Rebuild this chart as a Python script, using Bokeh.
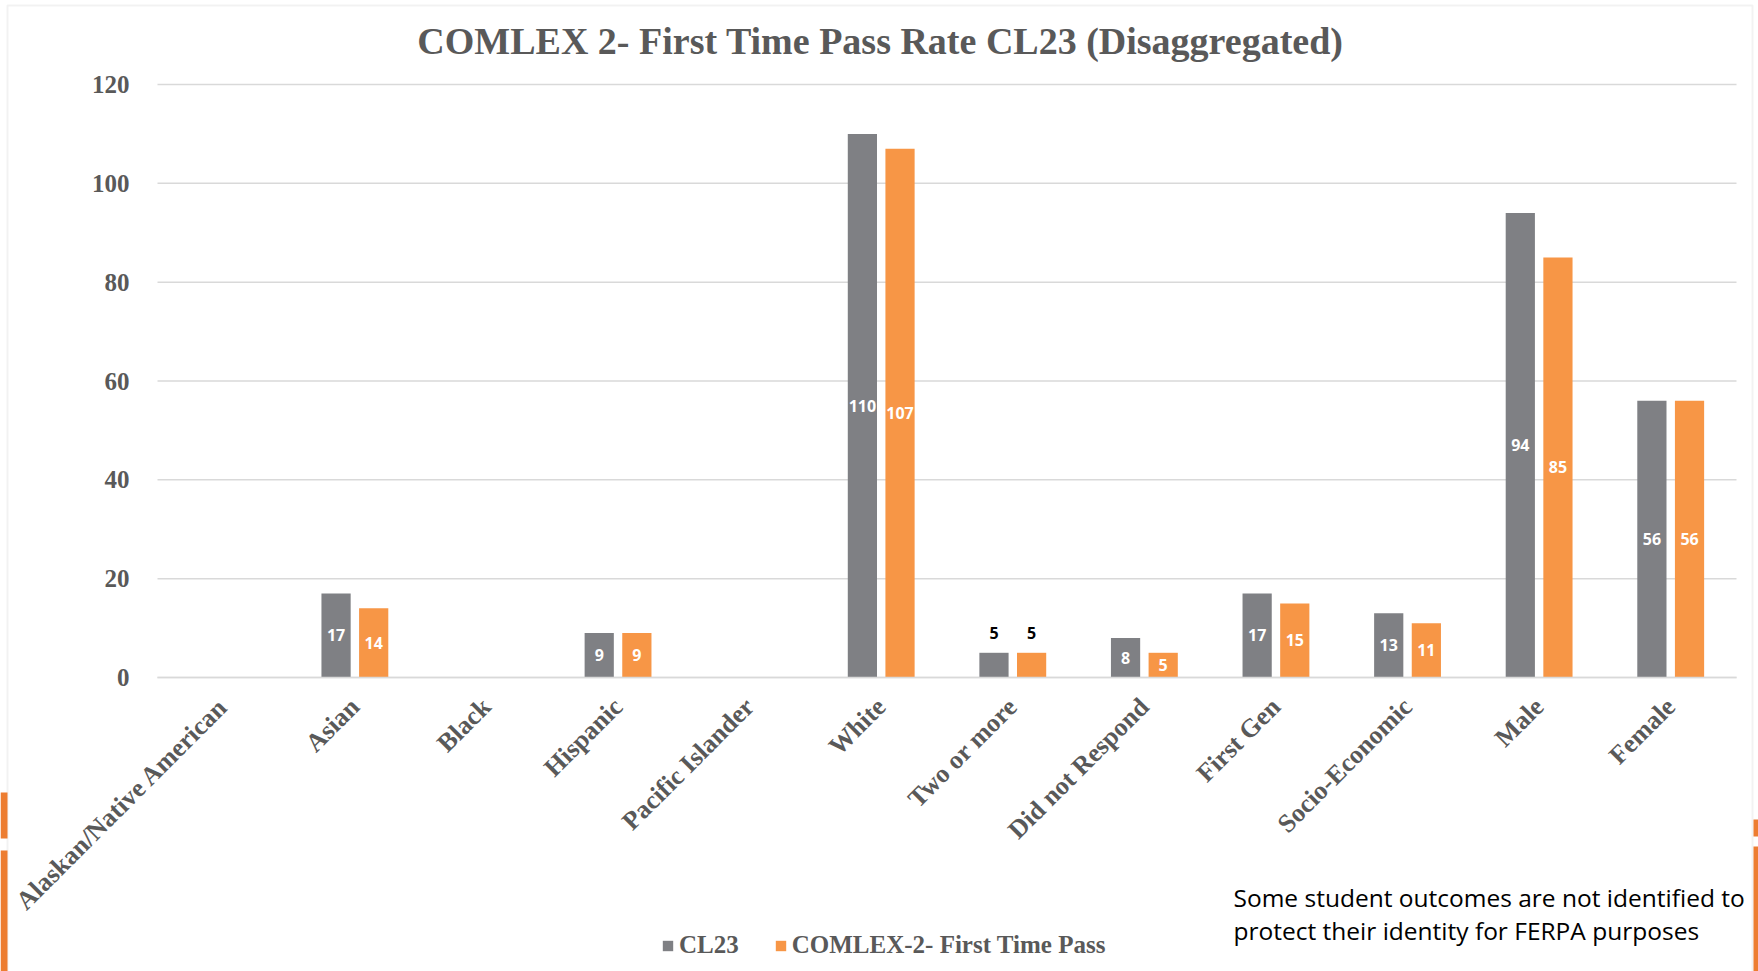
from bokeh.plotting import figure
from bokeh.models import (ColumnDataSource, Range1d, Legend, LegendItem, Label,
                          FixedTicker, LinearAxis, BoxAnnotation)
from bokeh.core.properties import value
from bokeh.embed import file_html
from bokeh.resources import INLINE

# ---------------- data ----------------
categories = ["Alaskan/Native American", "Asian", "Black", "Hispanic", "Pacific Islander",
              "White", "Two or more", "Did not Respond", "First Gen", "Socio-Economic",
              "Male", "Female"]
cl23 = [0, 17, 0, 9, 0, 110, 5, 8, 17, 13, 94, 56]
comlex2_first_pass = [0, 14, 0, 9, 0, 107, 5, 5, 15, 11, 85, 56]
# data labels drawn above the bar (outside end) instead of centred inside
label_outside = ["Two or more"]
series_names = ["CL23", "COMLEX-2- First Time Pass"]
y_ticks = [0, 20, 40, 60, 80, 100, 120]
title_text = "COMLEX 2- First Time Pass Rate CL23 (Disaggregated)"
note_lines = ["Some student outcomes are not identified to",
              "protect their identity for FERPA purposes"]

# ---------------- layout / style ----------------
GRAY = "#7f8084"
ORANGE = "#f79646"
SLIDE_ORANGE = "#ed7d31"
TEXT = "#595959"
GRID = "#d9d9d9"
SERIF = "Liberation Serif"

W, H = 1758, 971
AREA_LEFT, AREA_RIGHT = 157, 1736   # plot area (px)
TOP_PX, ZERO_PX = 84, 677           # canvas y of the 120 line and of the 0 line
Y_MAX = 120
n = len(categories)
cat_px = (AREA_RIGHT - AREA_LEFT) / n
px_per_unit = (ZERO_PX - TOP_PX) / Y_MAX
y_top = Y_MAX + TOP_PX / px_per_unit
y_bottom = -(H - ZERO_PX) / px_per_unit
x_left = -0.5 - AREA_LEFT / cat_px
x_right = n - 0.5 + (W - AREA_RIGHT) / cat_px

p = figure(x_range=Range1d(x_left, x_right), y_range=Range1d(y_bottom, y_top),
           width=W, height=H, output_backend="svg", toolbar_location=None,
           x_axis_location=None, y_axis_location=None,
           min_border_left=0, min_border_right=0, min_border_top=0,
           min_border_bottom=0)
p.outline_line_color = None
p.background_fill_color = "white"
p.border_fill_color = "white"
p.xgrid.grid_line_color = None
p.ygrid.grid_line_color = None

# slide decoration: chart border and orange edge shapes (screen px, y up)
def sbox(l, r, t, b, **kw):
    p.add_layout(BoxAnnotation(left=l, right=r, top=H - t, bottom=H - b,
                               left_units="screen", right_units="screen",
                               top_units="screen", bottom_units="screen",
                               level="underlay", **kw))

sbox(7, 1752, 5, H + 5, fill_alpha=0, line_color="#d4d4d4", line_width=2)
sbox(0, 7, 792, 838, fill_color=SLIDE_ORANGE, fill_alpha=1, line_color=None)
sbox(0, 7, 850, H, fill_color=SLIDE_ORANGE, fill_alpha=1, line_color=None)
sbox(1753, W, 819, 836, fill_color=SLIDE_ORANGE, fill_alpha=1, line_color=None)
sbox(1753, W, 846, H, fill_color=SLIDE_ORANGE, fill_alpha=1, line_color=None)

idx = list(range(n))
OFF = 0.143
BW = 0.222

# horizontal gridlines across the category area only
p.segment(x0=[-0.5] * len(y_ticks), x1=[n - 0.5] * len(y_ticks), y0=y_ticks, y1=y_ticks,
          line_color=GRID, line_width=1.5)

src = ColumnDataSource(dict(i=idx, xa=[i - OFF for i in idx], xb=[i + OFF for i in idx],
                            a=cl23, b=comlex2_first_pass))
r1 = p.vbar(x="xa", top="a", width=BW, source=src, fill_color=GRAY, line_color=None)
r2 = p.vbar(x="xb", top="b", width=BW, source=src, fill_color=ORANGE, line_color=None)

# data labels
def label_sources(vals, off):
    inside = dict(x=[], y=[], t=[])
    outside = dict(x=[], y=[], t=[])
    for i, (c, v) in enumerate(zip(categories, vals)):
        if v <= 0:
            continue
        d = outside if c in label_outside else inside
        d["x"].append(i + off)
        d["y"].append(v if c in label_outside else v / 2)
        d["t"].append(str(v))
    return ColumnDataSource(inside), ColumnDataSource(outside)

for vals, off in ((cl23, -OFF), (comlex2_first_pass, OFF)):
    s_in, s_out = label_sources(vals, off)
    p.text(x="x", y="y", text="t", source=s_in,
           text_font=value("Open Sans"), text_font_style="bold", text_font_size="16px",
           text_color="white", text_align="center", text_baseline="middle")
    p.text(x="x", y="y", text="t", source=s_out,
           text_font=value("Open Sans"), text_font_style="bold", text_font_size="16px",
           text_color="black", text_align="center", text_baseline="middle", y_offset=-20)

# category axis drawn at y = 0
xaxis = LinearAxis(fixed_location=0, ticker=FixedTicker(ticks=idx),
                   major_label_overrides={i: c for i, c in enumerate(categories)},
                   bounds=(-0.5, n - 0.5))
xaxis.axis_line_color = GRID
xaxis.axis_line_width = 1.5
xaxis.major_tick_line_color = None
xaxis.minor_tick_line_color = None
xaxis.major_label_orientation = 0.785398
xaxis.major_label_standoff = 19
xaxis.major_label_text_font = SERIF
xaxis.major_label_text_font_style = "bold"
xaxis.major_label_text_font_size = "26px"
xaxis.major_label_text_color = TEXT
p.add_layout(xaxis, "below")

# value axis drawn at the left edge of the category area
yaxis = LinearAxis(fixed_location=-0.5, ticker=FixedTicker(ticks=y_ticks),
                   bounds=(0, Y_MAX))
yaxis.axis_line_color = None
yaxis.major_tick_line_color = None
yaxis.minor_tick_line_color = None
yaxis.major_label_standoff = 22
yaxis.major_label_text_font = SERIF
yaxis.major_label_text_font_style = "bold"
yaxis.major_label_text_font_size = "25px"
yaxis.major_label_text_color = TEXT
p.add_layout(yaxis, "left")

# title
p.add_layout(Label(x=880, y=H - 40, x_units="screen", y_units="screen",
                   text=title_text, text_align="center", text_baseline="middle",
                   text_font=SERIF, text_font_style="bold", text_font_size="38px",
                   text_color=TEXT))

# legend
legend = Legend(items=[LegendItem(label=series_names[0], renderers=[r1]),
                       LegendItem(label=series_names[1], renderers=[r2])],
                orientation="horizontal", location=(661, 12),
                glyph_width=13, glyph_height=13, label_standoff=5, spacing=35,
                padding=0, margin=0, border_line_color=None, background_fill_alpha=0,
                label_text_font=SERIF, label_text_font_style="bold",
                label_text_font_size="25px", label_text_color=TEXT)
p.add_layout(legend)

# note
for i, line in enumerate(note_lines):
    p.add_layout(Label(x=1233, y=H - 897 - 33 * i, x_units="screen",
                       y_units="screen", text=line, text_align="left",
                       text_baseline="middle", text_font="Open Sans",
                       text_font_size="24.5px", text_color="black"))

open("out.html", "w").write(file_html(p, INLINE))
